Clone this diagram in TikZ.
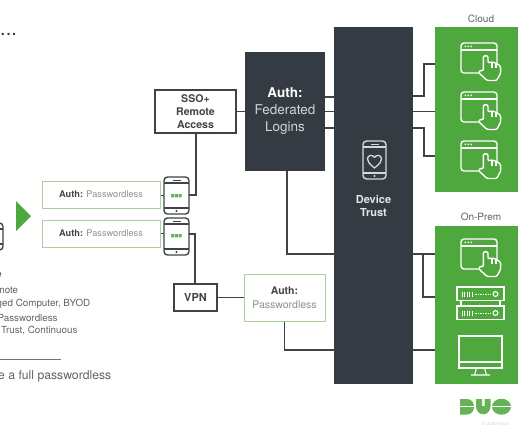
\documentclass[tikz,border=0pt]{standalone}
\usepackage{fontspec}
\setmainfont{TeX Gyre Heros}
\definecolor{duogreen}{HTML}{4FA83D}
\definecolor{duodark}{HTML}{353B42}
\definecolor{duoline}{HTML}{3F4347}
\definecolor{authgrey}{HTML}{8E9094}
\definecolor{softgreen}{HTML}{A9CFA0}
\definecolor{logogreen}{HTML}{66B257}
\newcommand{\fsz}[1]{\fontsize{#1bp}{#1bp}\selectfont}
\newcommand{\appicon}[2]{%
  \begin{scope}[shift={(#1,#2)},draw=white,line width=1.4bp,line join=round]
    \draw[rounded corners=3bp] (0,0) rectangle (36,30);
    \draw (0,7) -- (36,7);
    \fill[white] (3.5,2.6) rectangle +(1.6,1.6) (6.5,2.6) rectangle +(1.6,1.6) (9.5,2.6) rectangle +(1.6,1.6);
    \draw[fill=duogreen,rounded corners=1.3bp] (22.3,28) -- (22.3,12.8) -- (27,12.8) -- (27,20) -- (31,18.8) -- (35,20.3) -- (39.5,23) -- (39.7,30) -- (35.7,37.5) -- (26,37.5) -- (17.3,29.3) -- (20.5,26.8) -- cycle;
    \draw[line width=1.2bp] (31,19) -- (31,24.5) (35,20.5) -- (35,24.5);
  \end{scope}}
\newcommand{\phoneicon}[5]{% x y w h colour
  \begin{scope}[shift={(#1,#2)},draw=#5,line width=1.4bp]
    \draw[rounded corners=3.5bp] (0,0) rectangle (#3,#4);
    \draw (0,6) -- (#3,6) (0,{#4-6}) -- (#3,{#4-6});
    \draw[line width=1bp] ({#3/2-4},3) -- ({#3/2+4},3);
    \fill[#5] ({#3/2},{#4-3}) circle (1.1);
  \end{scope}}
\newcommand{\minilogo}[2]{%
  \fill[logogreen] (#1,#2) rectangle +(3,3.4) ({#1+3.8},#2) rectangle +(3,3.4) ({#1+7.6},#2) rectangle +(3,3.4);}
\tikzset{
  conn/.style={draw=duoline,line width=1.1bp},
  darkbox/.style={fill=duodark,draw=none,inner sep=0pt,align=center},
  greenbox/.style={fill=duogreen,draw=none,inner sep=0pt},
  whitebox/.style={draw=duoline,line width=1.2bp,fill=white,inner sep=0pt,align=center,font=\bfseries\color{duoline}},
  softbox/.style={draw=softgreen,line width=1bp,fill=white,inner sep=0pt,align=center},
  sidetxt/.style={inner sep=0pt,anchor=west,text=black!62,font=\fsz{9.8}},
  tag/.style={inner sep=0pt,text=black!62,font=\fsz{10}}
}
\begin{document}
\begin{tikzpicture}[x=1bp,y=-1bp]
\useasboundingbox (0,0) rectangle (518,432);
% main blocks
\node[darkbox,minimum width=79bp,minimum height=357bp] (trust) at (373.5,205.5) {};
\node[greenbox,minimum width=83bp,minimum height=165bp] (cloud) at (476.5,109.5) {};
\node[greenbox,minimum width=83bp,minimum height=158bp] (prem) at (476.5,305) {};
\node[darkbox,minimum width=80bp,minimum height=119bp,font=\fsz{13.5},text=white!78!duodark] (fed) at (285,111.5) {\textcolor{white}{\bfseries Auth:}\\[3.5bp]Federated\\[3.5bp]Logins};
\node[whitebox,minimum width=81bp,minimum height=43bp,font=\bfseries\fsz{10.6}\color{duoline}] (sso) at (195.5,111.5) {SSO+\\[2.6bp]Remote\\[2.6bp]Access};
\node[softbox,minimum width=118bp,minimum height=27bp,font=\fsz{9.2}] (pw1) at (101,194.5) {\textcolor{duoline}{\bfseries Auth:} \textcolor{authgrey}{Passwordless}};
\node[softbox,minimum width=118bp,minimum height=27bp,font=\fsz{9.2}] (pw2) at (101,233.5) {\textcolor{duoline}{\bfseries Auth:} \textcolor{authgrey}{Passwordless}};
\node[whitebox,minimum width=43bp,minimum height=27bp,font=\bfseries\fsz{11}\color{duoline}] (vpn) at (195.5,297.5) {VPN};
\node[softbox,minimum width=81bp,minimum height=47bp,font=\fsz{10.5}] (pw3) at (284.5,297.5) {\textcolor{duoline}{\bfseries Auth:}\\[3bp]\textcolor{authgrey}{Passwordless}};
\node[inner sep=0pt,minimum width=25bp,minimum height=37bp] (ph1) at (176.5,195.5) {};
\node[inner sep=0pt,minimum width=25bp,minimum height=37bp] (ph2) at (176.5,236.5) {};
% junction points
\coordinate (ssoj) at (196,195);
\coordinate (vpnj) at (195,234);
\coordinate (cl1a) at (424,96);
\coordinate (cl1b) at (424,64);
\coordinate (cl3a) at (424,128);
\coordinate (cl3b) at (424,156);
\coordinate (fed1) at (325,97);
\coordinate (fed3) at (325,128);
\coordinate (fedd) at (287,254);
\coordinate (pwd) at (284.5,350);
\coordinate (prj) at (423,254);
\coordinate (prs) at (423,297);
% connectors
\draw[conn] (sso.east) -- (fed.west);
\draw[conn] (fed1) -- (fed1 -| trust.west);
\draw[conn] (fed.east) -- (fed.east -| trust.west);
\draw[conn] (fed3) -- (fed3 -| trust.west);
\draw[conn] (sso.south -| ssoj) -- (ssoj) -- (ph1.east |- ssoj);
\draw[conn] (pw1.east |- ph1.west) -- (ph1.west);
\draw[conn] (pw2.east) -- (ph2.west |- pw2.east);
\draw[conn] (ph2.east |- vpnj) -- (vpnj) -- (vpn.north -| vpnj);
\draw[conn] (vpn.east) -- (pw3.west);
\draw[conn] (pw3.south) -- (pwd) -- (pwd -| trust.west);
\draw[conn] (fed.south -| fedd) -- (fedd) -- (fedd -| trust.west);
\draw[conn] (cl1a -| trust.east) -- (cl1a) -- (cl1b) -- (cl1b -| cloud.west);
\draw[conn] (fed.east -| trust.east) -- (fed.east -| cloud.west);
\draw[conn] (cl3a -| trust.east) -- (cl3a) -- (cl3b) -- (cl3b -| cloud.west);
\draw[conn] (prj -| trust.east) -- (prj -| prem.west);
\draw[conn] (prj) -- (prs) -- (prs -| prem.west);
\draw[conn] (pwd -| trust.east) -- (pwd -| prem.west);
% phones
\phoneicon{164}{177}{25}{37}{duoline}
\phoneicon{164}{218}{25}{37}{duoline}
\minilogo{171}{194}
\minilogo{171}{234}
\phoneicon{-22}{223}{25}{27}{duoline}
% triangle
\fill[duogreen] (16,201) -- (31,216) -- (16,231) -- cycle;
% device trust
\phoneicon{363}{141}{23}{38}{white!80!duodark}
\draw[white!80!duodark,line width=1.3bp,line join=round] (374.5,168) .. controls (369,163.5) and (367.5,161.5) .. (367.5,159) .. controls (367.5,155) and (372.5,154) .. (374.5,157.5) .. controls (376.5,154) and (381.5,155) .. (381.5,159) .. controls (381.5,161.5) and (380,163.5) .. (374.5,168) -- cycle;
\node[inner sep=0pt,text=white!88!duodark,align=center,font=\bfseries\fsz{11}] (dtlabel) at (373.5,206) {Device\\[1.5bp]Trust};
% cloud / on-prem labels
\node[tag] (cloudtag) at (481,19) {Cloud};
\node[tag] (premtag) at (481,217) {On-Prem};
% app icons
\appicon{461}{43}
\appicon{461}{92}
\appicon{461}{141}
\appicon{461}{239}
% servers
\begin{scope}[draw=white,line width=1.1bp]
  \foreach \yy in {287,306}{
    \draw (457,\yy) rectangle (504,\yy+13.5);
    \draw (495.5,\yy+7) circle (2.4);
    \foreach \xx in {462,464.5,467,469.5,472}{\draw[line width=1bp] (\xx,\yy+4.5) -- (\xx,\yy+9.5);}
    \draw[line width=0.8bp,dash pattern=on 1.5bp off 1bp] (475,\yy+7) -- (491,\yy+7);
  }
  \draw (461,300.5) -- (461,306) (500,300.5) -- (500,306);
  % monitor
  \draw[line width=1.3bp] (459,336) rectangle (502,368);
  \draw[line width=1.1bp] (459,362) -- (502,362);
  \draw[line width=1.1bp] (476.5,368) -- (474.5,375) (484.5,368) -- (486.5,375) (471,375) -- (490,375);
\end{scope}
% Duo logo
\fill[logogreen] (460,399) -- (467,399) .. controls (476.3,399) and (476.3,414.5) .. (467,414.5) -- (460,414.5) -- cycle;
\fill[logogreen] (476,399) -- (482,399) -- (482,406) -- (484.5,406) -- (484.5,399) -- (490.5,399) -- (490.5,406) .. controls (490.5,417) and (476,417) .. (476,406) -- cycle;
\fill[logogreen] (501.5,406.7) ellipse[x radius=9.5,y radius=8];
\draw[white,line width=0.7bp] (459,406.5) -- (475,406.5) (491.5,406.5) -- (511.5,406.5);
\node[inner sep=0pt,anchor=west,text=black!18,font=\fsz{4.5}] (copyr) at (482,424) {© 2020 Cisco};
% left text (cropped at the picture edge)
\node[inner sep=0pt,anchor=base west,text=black!80,font=\fsz{20}] (dots) at (0,35) {...};
\node[sidetxt,font=\bfseries\fsz{9.8},text=duoline] (l1) at (-4,275) {e};
\node[sidetxt] (l2) at (-16,290) {Remote};
\node[sidetxt] (l3) at (-28,304) {Managed Computer, BYOD};
\node[sidetxt] (l4) at (-29,317.5) {Auth: Passwordless};
\node[sidetxt] (l5) at (-22,331) {Zero Trust, Continuous};
\coordinate (rulea) at (0,359);
\coordinate (ruleb) at (61,359);
\draw[draw=black!55,line width=0.6bp] (rulea) -- (ruleb);
\node[inner sep=0pt,anchor=west,text=black!62,font=\fsz{12.2}] (l6) at (-2,376.5) {e a full passwordless};
\end{tikzpicture}
\end{document}
